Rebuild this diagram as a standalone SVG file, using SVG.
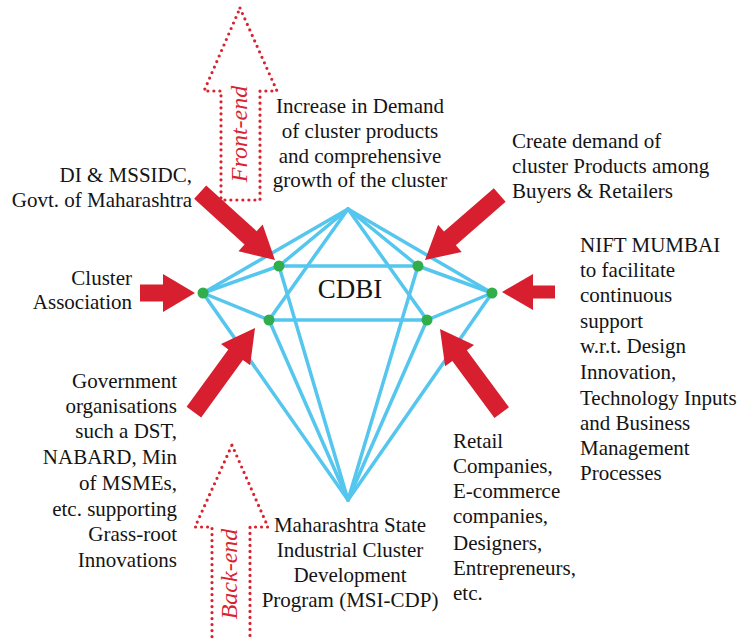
<svg xmlns="http://www.w3.org/2000/svg" width="741" height="639" viewBox="0 0 741 639">
<style>
.t{font-family:"Liberation Serif","Times New Roman",serif;font-size:21px;fill:#141414}
.e{text-anchor:end}
.m{text-anchor:middle}
.ln{stroke:#55c6ee;stroke-width:3.5;fill:none;stroke-linecap:round}
.nd{fill:#2fae4b}
.ra{fill:#d71f2f}
.dot{fill:none;stroke:#d9232f;stroke-width:3.2;stroke-dasharray:0 6;stroke-linecap:round;stroke-linejoin:round}
.lab{font-family:"Liberation Serif","Times New Roman",serif;font-style:italic;font-size:24px;fill:#d9232f;text-anchor:middle}
</style>
<rect width="741" height="639" fill="#fff"/>

<g id="front-end">
<polygon class="dot" points="240,8 277,91 260,91 260,200 221,200 221,91 204,91"/>
<text class="lab" transform="translate(247,134) rotate(-90)">Front-end</text>
</g>
<g id="back-end">
<polygon class="dot" points="232,445 268,527 250,527 250,650 212,650 212,527 195,527"/>
<text class="lab" transform="translate(237,574) rotate(-90)">Back-end</text>
</g>

<g id="connectors">
<line class="ln" x1="348" y1="209" x2="279" y2="266"/>
<line class="ln" x1="348" y1="209" x2="203" y2="293"/>
<line class="ln" x1="348" y1="209" x2="269" y2="320"/>
<line class="ln" x1="348" y1="209" x2="418" y2="266"/>
<line class="ln" x1="348" y1="209" x2="492" y2="293"/>
<line class="ln" x1="348" y1="209" x2="427" y2="320"/>
<line class="ln" x1="203" y1="293" x2="279" y2="266"/>
<line class="ln" x1="203" y1="293" x2="269" y2="320"/>
<line class="ln" x1="492" y1="293" x2="418" y2="266"/>
<line class="ln" x1="492" y1="293" x2="427" y2="320"/>
<line class="ln" x1="279" y1="266" x2="418" y2="266"/>
<line class="ln" x1="269" y1="320" x2="427" y2="320"/>
<line class="ln" x1="348" y1="500" x2="203" y2="293"/>
<line class="ln" x1="348" y1="500" x2="269" y2="320"/>
<line class="ln" x1="348" y1="500" x2="279" y2="266"/>
<line class="ln" x1="348" y1="500" x2="492" y2="293"/>
<line class="ln" x1="348" y1="500" x2="427" y2="320"/>
<line class="ln" x1="348" y1="500" x2="418" y2="266"/>
</g>

<g id="nodes">
<circle class="nd" cx="279" cy="266" r="5.5"/>
<circle class="nd" cx="418" cy="266" r="5.5"/>
<circle class="nd" cx="203" cy="293" r="5.5"/>
<circle class="nd" cx="492" cy="293" r="5.5"/>
<circle class="nd" cx="269" cy="320" r="5.5"/>
<circle class="nd" cx="427" cy="320" r="5.5"/>
</g>

<g id="cdbi">
<text class="t m" x="350" y="298" style="font-size:27px">CDBI</text>
</g>

<g id="arrows">
<path class="ra" transform="translate(275,260) rotate(42.2)" d="M0,0 L-33,-18 L-33,-9 L-101,-9 L-101,9 L-33,9 L-33,18 Z"/>
<path class="ra" transform="translate(195,293)" d="M0,0 L-32,-19 L-32,-8.5 L-55,-8.5 L-55,8.5 L-32,8.5 L-32,19 Z"/>
<path class="ra" transform="translate(255,328) rotate(-54)" d="M0,0 L-33,-18 L-33,-9 L-104,-9 L-104,9 L-33,9 L-33,18 Z"/>
<path class="ra" transform="translate(425,260) rotate(139)" d="M0,0 L-33,-18 L-33,-9 L-99,-9 L-99,9 L-33,9 L-33,18 Z"/>
<path class="ra" transform="translate(502,292) rotate(180)" d="M0,0 L-31,-18 L-31,-6.5 L-53,-6.5 L-53,6.5 L-31,6.5 L-31,18 Z"/>
<path class="ra" transform="translate(440,329) rotate(-126.4)" d="M0,0 L-33,-18 L-33,-9 L-104,-9 L-104,9 L-33,9 L-33,18 Z"/>
</g>

<g id="top-label">
<text class="t m" x="360" y="113">Increase in Demand</text>
<text class="t m" x="360" y="138">of cluster products</text>
<text class="t m" x="360" y="163">and comprehensive</text>
<text class="t m" x="360" y="187">growth of the cluster</text>
</g>

<g id="di-label">
<text class="t e" x="192" y="182">DI &amp; MSSIDC,</text>
<text class="t e" x="192" y="207">Govt. of Maharashtra</text>
</g>

<g id="cluster-label">
<text class="t e" x="132" y="285">Cluster</text>
<text class="t e" x="132" y="309">Association</text>
</g>

<g id="gov-label">
<text class="t e" x="177" y="388">Government</text>
<text class="t e" x="177" y="413">organisations</text>
<text class="t e" x="177" y="438">such a DST,</text>
<text class="t e" x="177" y="464">NABARD, Min</text>
<text class="t e" x="177" y="490">of MSMEs,</text>
<text class="t e" x="177" y="516">etc. supporting</text>
<text class="t e" x="177" y="541">Grass-root</text>
<text class="t e" x="177" y="567">Innovations</text>
</g>

<g id="create-label">
<text class="t" x="512" y="148">Create demand of</text>
<text class="t" x="512" y="173">cluster Products among</text>
<text class="t" x="512" y="198">Buyers &amp; Retailers</text>
</g>

<g id="nift-label">
<text class="t" x="580" y="252">NIFT MUMBAI</text>
<text class="t" x="580" y="277">to facilitate</text>
<text class="t" x="580" y="302">continuous</text>
<text class="t" x="580" y="328">support</text>
<text class="t" x="580" y="353">w.r.t. Design</text>
<text class="t" x="580" y="379">Innovation,</text>
<text class="t" x="580" y="405">Technology Inputs</text>
<text class="t" x="580" y="430">and Business</text>
<text class="t" x="580" y="455">Management</text>
<text class="t" x="580" y="480">Processes</text>
</g>

<g id="retail-label">
<text class="t" x="453" y="448">Retail</text>
<text class="t" x="453" y="473">Companies,</text>
<text class="t" x="453" y="498">E-commerce</text>
<text class="t" x="453" y="523">companies,</text>
<text class="t" x="453" y="550">Designers,</text>
<text class="t" x="453" y="575">Entrepreneurs,</text>
<text class="t" x="453" y="600">etc.</text>
</g>

<g id="msi-label">
<text class="t m" x="350" y="532">Maharashtra State</text>
<text class="t m" x="350" y="557">Industrial Cluster</text>
<text class="t m" x="350" y="582">Development</text>
<text class="t m" x="350" y="607">Program (MSI-CDP)</text>
</g>
</svg>
